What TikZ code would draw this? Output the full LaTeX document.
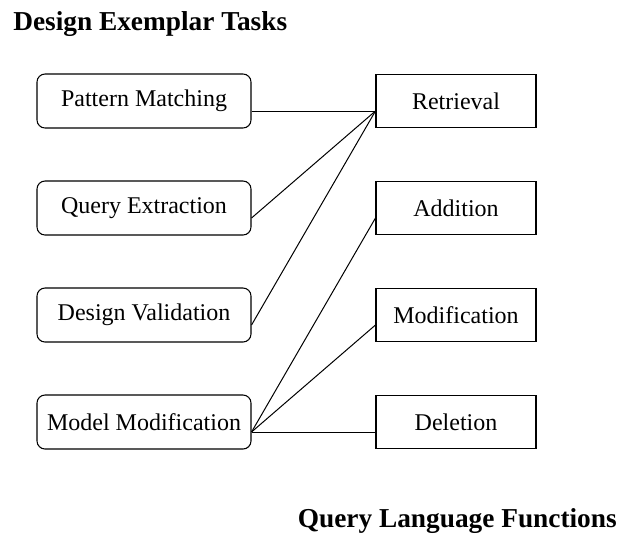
\documentclass[tikz,border=0pt]{standalone}
\usepackage{fontspec}
\setmainfont{Liberation Serif}
\begin{document}
\begin{tikzpicture}[x=0.75pt,y=-0.75pt,
  task/.style={draw,line width=0.8pt,rounded corners=6pt,minimum width=160.5pt,minimum height=40.5pt,inner sep=0pt,font=\fontsize{18}{20}\selectfont},
  func/.style={draw,line width=0.8pt,minimum width=120pt,minimum height=40pt,inner sep=0pt,font=\fontsize{18}{20}\selectfont},
  heading/.style={inner sep=0pt,font=\fontsize{20.5}{24}\selectfont\bfseries},
  link/.style={line width=0.75pt}]
\useasboundingbox (0,0) rectangle (620,536);

\node[heading,anchor=base west] (t1) at (13,30) {Design Exemplar Tasks};
\node[heading,anchor=base east] (t2) at (617,527) {Query Language Functions};

% design tasks
\node[task] (pm) at (144,101) {Pattern Matching};
\node[task] (qe) at (144,208) {Query Extraction};
\node[task] (dv) at (144,315) {Design Validation};
\node[task] (mm) at (144,422) {Model Modification};

% query language functions
\node[func] (ret) at (456,101) {Retrieval};
\node[func] (add) at (456,208) {Addition};
\node[func] (mod) at (456,315) {Modification};
\node[func] (del) at (456,422) {Deletion};

% connectors
\draw[link] ([yshift=-7.5pt]pm.east) -- ([yshift=-7.5pt]ret.west);
\draw[link] ([yshift=-7.5pt]qe.east) -- ([yshift=-7.5pt]ret.west);
\draw[link] ([yshift=-7.5pt]dv.east) -- ([yshift=-7.5pt]ret.west);
\draw[link] ([yshift=-7.5pt]mm.east) -- ([yshift=-7.5pt]add.west);
\draw[link] ([yshift=-7.5pt]mm.east) -- ([yshift=-7.5pt]mod.west);
\draw[link] ([yshift=-7.5pt]mm.east) -- ([yshift=-7.5pt]del.west);
\end{tikzpicture}
\end{document}
